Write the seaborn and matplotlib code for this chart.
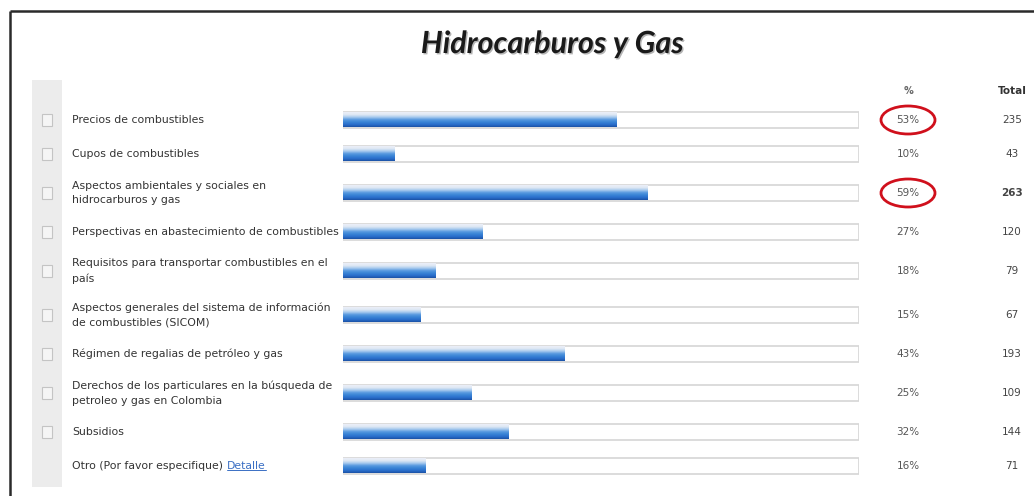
import numpy as np
import pandas as pd
import seaborn as sns
import matplotlib.pyplot as plt
from matplotlib.patches import Ellipse, Rectangle
from matplotlib.colors import LinearSegmentedColormap
import matplotlib.patheffects as pe

# data
categories = [
    "Precios de combustibles",
    "Cupos de combustibles",
    "Aspectos ambientales y sociales en\nhidrocarburos y gas",
    "Perspectivas en abastecimiento de combustibles",
    "Requisitos para transportar combustibles en el\npaís",
    "Aspectos generales del sistema de información\nde combustibles (SICOM)",
    "Régimen de regalias de petróleo y gas",
    "Derechos de los particulares en la búsqueda de\npetroleo y gas en Colombia",
    "Subsidios",
    "Otro (Por favor especifique)",
]
percent = [53, 10, 59, 27, 18, 15, 43, 25, 32, 16]
totals = [235, 43, 263, 120, 79, 67, 193, 109, 144, 71]
circled = [True, False, True, False, False, False, False, False, False, False]
bold_total = [False, False, True, False, False, False, False, False, False, False]

title = "Hidrocarburos y Gas"

# layout (pixel units, top-down)
W, H = 1034, 496
first_row = 120
h_single, h_double = 34, 44
bar_h = 16

nlines = [c.count("\n") + 1 for c in categories]
rowh = [h_single if n == 1 else h_double for n in nlines]
ypos = [first_row]
for i in range(1, len(rowh)):
    ypos.append(ypos[-1] + rowh[i - 1] / 2 + rowh[i] / 2)

df = pd.DataFrame({"cat": categories, "pct": percent, "total": totals,
                   "y": ypos, "track": 100})

sns.set_style("white")
plt.rcParams["font.family"] = ["DejaVu Sans"]

fig = plt.figure(figsize=(W / 100, H / 100), dpi=100)
fig.patch.set_facecolor("white")

ax = fig.add_axes([0, 0, 1, 1], zorder=0)
ax.set_xlim(0, W)
ax.set_ylim(H, 0)
ax.axis("off")

bax = fig.add_axes([343 / W, 0, 516 / W, 1], zorder=1)
bax.patch.set_alpha(0)

gap = min(np.diff(ypos))
sns.barplot(data=df, x="track", y="y", orient="y", native_scale=True,
            width=bar_h / gap, color="white", edgecolor="#d6d6d6",
            linewidth=1.2, ax=bax)
n_track = len(bax.patches)
sns.barplot(data=df, x="pct", y="y", orient="y", native_scale=True,
            width=(bar_h - 1) / gap, color="#2f7bd3", linewidth=0, ax=bax)

grad = LinearSegmentedColormap.from_list(
    "bar", ["#eceff8", "#dfe8f4", "#a9cbee", "#5a9be0", "#3a84d6", "#2a6fcc", "#1b52a6"])
g = np.linspace(0, 1, 64).reshape(-1, 1)
for p in bax.patches[n_track:]:
    x0, y0 = p.get_x(), p.get_y()
    w, h = p.get_width(), p.get_height()
    bax.imshow(g, cmap=grad, aspect="auto", origin="upper",
               extent=(x0, x0 + w, y0 + h, y0), zorder=3)
    p.set_visible(False)

bax.set_xlim(0, 100)
bax.set_ylim(H, 0)
bax.axis("off")

# frame
ax.plot([10, W], [11, 11], color="#2a2a2a", lw=1.8, solid_capstyle="butt")
ax.plot([10, 10], [11, H], color="#2a2a2a", lw=1.8, solid_capstyle="butt")

# title
ax.text(552, 44, title, ha="center", va="center", fontsize=22,
        fontweight="bold", fontstyle="italic", family=["Lato", "DejaVu Sans"],
        color="#1a1a1a",
        path_effects=[pe.SimplePatchShadow(offset=(1.0, -1.0), alpha=0.3),
                      pe.Normal()])

# left gray column and checkboxes
ax.add_patch(Rectangle((32, 80), 30, 407, fc="#ececec", ec="none"))
for y in ypos[:-1]:
    ax.add_patch(Rectangle((42, y - 6), 10, 12, fc="#f5f5f5", ec="#c4c4c4", lw=0.8))

# headers
ax.text(908, 91, "%", ha="center", va="center", fontsize=7, color="#666666",
        fontweight="bold")
ax.text(1012, 91, "Total", ha="center", va="center", fontsize=7.5,
        color="#333333", fontweight="bold")

# row texts
for i, row in df.iterrows():
    t = ax.text(72, row["y"], row["cat"], ha="left", va="center", fontsize=7.8,
                color="#333333", linespacing=1.6)
    ax.text(908, row["y"], f"{row['pct']}%", ha="center", va="center",
            fontsize=7.5, color="#555555")
    ax.text(1012, row["y"], f"{row['total']}", ha="center", va="center",
            fontsize=7.5, color="#444444",
            fontweight="bold" if bold_total[i] else "normal")
    if circled[i]:
        ax.add_patch(Ellipse((908, row["y"]), 54, 28, fill=False,
                             ec="#d0101c", lw=2))
    if i == len(df) - 1:
        link = ax.annotate("Detalle", xy=(1, 0.5), xycoords=t, xytext=(3, 0),
                           textcoords="offset points", ha="left", va="center",
                           fontsize=7.8, color="#3a6fc4")

fig.canvas.draw()
bb = link.get_window_extent().transformed(ax.transData.inverted())
ax.plot([bb.x0, bb.x1], [bb.y0 - 1, bb.y0 - 1], color="#3a6fc4", lw=0.7)

fig.savefig("out.png", dpi=100, facecolor="white")
